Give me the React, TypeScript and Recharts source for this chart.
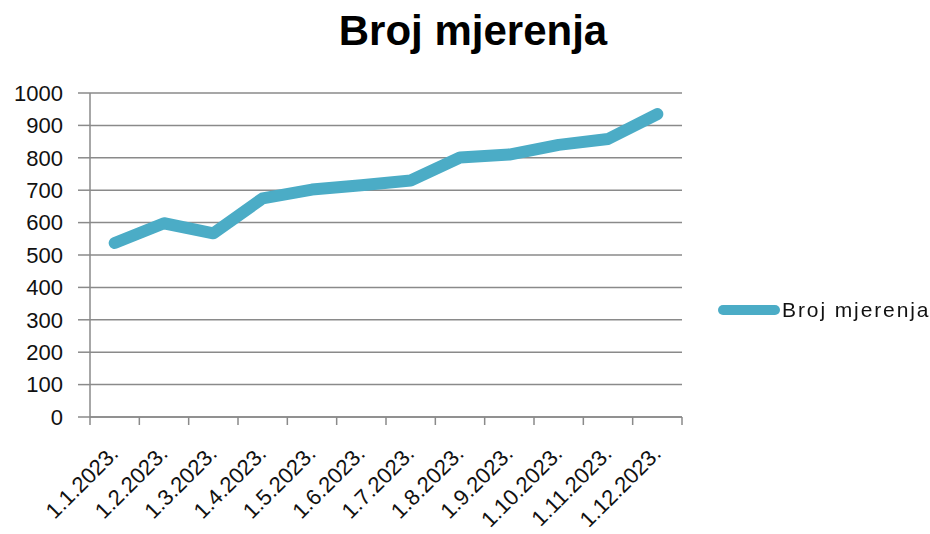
import React from "react";
import { LineChart, Line, XAxis, YAxis, CartesianGrid, Legend } from "recharts";

const categories = [
  "1.1.2023.", "1.2.2023.", "1.3.2023.", "1.4.2023.", "1.5.2023.", "1.6.2023.",
  "1.7.2023.", "1.8.2023.", "1.9.2023.", "1.10.2023.", "1.11.2023.", "1.12.2023.",
];
const brojMjerenja = [537, 598, 567, 675, 702, 715, 730, 801, 810, 840, 858, 935];
const yTicks = [0, 100, 200, 300, 400, 500, 600, 700, 800, 900, 1000];
const seriesName = "Broj mjerenja";
const title = "Broj mjerenja";

const data = categories.map((c, i) => ({ date: c, value: brojMjerenja[i] }));

const W = 930;
const H = 534;
const PLOT_LEFT = 90;
const PLOT_RIGHT = 682;
const PLOT_TOP = 93;
const PLOT_BOTTOM = 417;
const LEGEND_W = 215;
const BAND = (PLOT_RIGHT - PLOT_LEFT) / categories.length;
const COLOR = "#4BACC6";
const AXIS = "#8a8a8a";
const FONT = "Liberation Sans, Arial, sans-serif";
const TEXT = "#111";

const XTick = (props: any) => {
  const { x, y, payload, index } = props;
  const isLast = index === categories.length - 1;
  const ax = x + 5;
  const ay = y + 30;
  return (
    <g>
      <line x1={x - BAND / 2} y1={y - 8} x2={x - BAND / 2} y2={y} stroke={AXIS} strokeWidth={1.5} />
      {isLast && (
        <line x1={x + BAND / 2} y1={y - 8} x2={x + BAND / 2} y2={y} stroke={AXIS} strokeWidth={1.5} />
      )}
      <text
        x={ax}
        y={ay}
        transform={`rotate(-45, ${ax}, ${ay})`}
        textAnchor="end"
        fontSize={22}
        fontFamily={FONT}
        fill={TEXT}
      >
        {payload.value}
      </text>
    </g>
  );
};

const LegendContent = () => (
  <div style={{ display: "flex", alignItems: "center", width: LEGEND_W, height: 24 }}>
    <svg width={69} height={14} style={{ display: "block", flex: "none" }}>
      <line x1={10} y1={7} x2={62} y2={7} stroke={COLOR} strokeWidth={10} strokeLinecap="round" />
    </svg>
    <span style={{ fontFamily: FONT, fontSize: 21, letterSpacing: 1.9, color: TEXT, whiteSpace: "nowrap" }}>
      {seriesName}
    </span>
  </div>
);

export default function App() {
  return (
    <div style={{ position: "fixed", left: 0, top: 0, width: W, height: H, background: "#fff" }}>
      <LineChart
        width={W}
        height={H}
        data={data}
        margin={{ top: PLOT_TOP, right: W - PLOT_RIGHT - LEGEND_W, bottom: 0, left: 0 }}
      >
        <text x={473} y={45} textAnchor="middle" fontSize={42} fontWeight="bold" fontFamily={FONT} fill="#000">
          {title}
        </text>
        <CartesianGrid vertical={false} stroke={AXIS} strokeWidth={1.5} />
        <XAxis
          dataKey="date"
          scale="band"
          height={H - PLOT_BOTTOM}
          interval={0}
          tickLine={false}
          axisLine={{ stroke: AXIS, strokeWidth: 1.5 }}
          tick={<XTick />}
        />
        <YAxis
          width={PLOT_LEFT}
          domain={[0, 1000]}
          ticks={yTicks}
          interval={0}
          tickSize={12}
          tickMargin={15}
          axisLine={{ stroke: AXIS, strokeWidth: 1.5 }}
          tickLine={{ stroke: AXIS, strokeWidth: 1.5 }}
          tick={{ fontSize: 22, fontFamily: FONT, fill: TEXT }}
        />
        <Legend
          content={<LegendContent />}
          layout="vertical"
          align="right"
          verticalAlign="top"
          wrapperStyle={{ position: "absolute", left: 713, top: 298, width: LEGEND_W }}
        />
        <Line
          type="linear"
          dataKey="value"
          name={seriesName}
          stroke={COLOR}
          strokeWidth={12}
          strokeLinecap="round"
          strokeLinejoin="round"
          dot={false}
          activeDot={false}
          isAnimationActive={false}
        />
      </LineChart>
    </div>
  );
}
